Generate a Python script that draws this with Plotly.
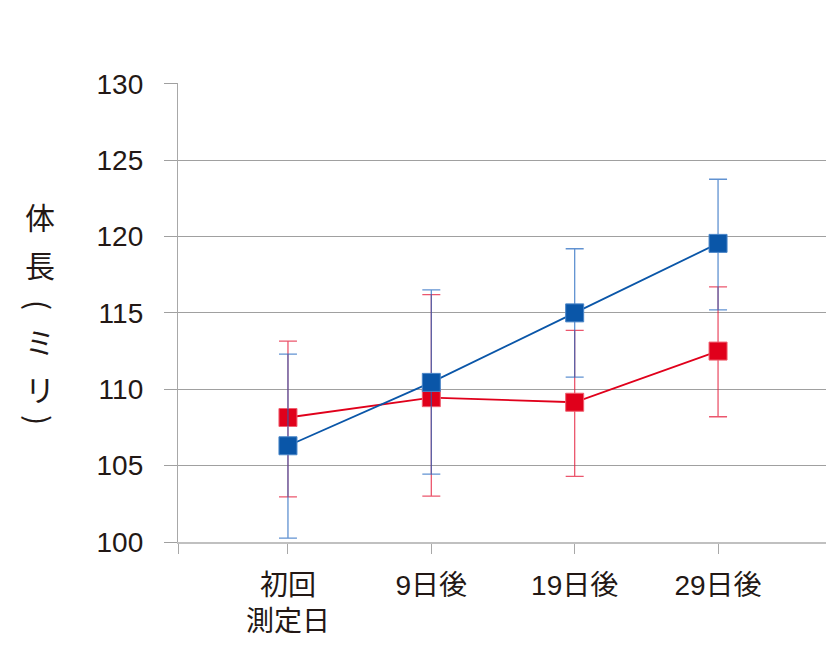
import plotly.graph_objects as go

categories = ["初回<br>測定日", "9日後", "19日後", "29日後"]
blue_mean = [106.3, 110.45, 115.0, 119.55]
blue_err_plus = [6.0, 6.05, 4.2, 4.2]
blue_err_minus = [6.05, 6.0, 4.2, 4.35]
red_mean = [108.15, 109.45, 109.15, 112.5]
red_err_plus = [5.0, 6.75, 4.7, 4.2]
red_err_minus = [5.2, 6.45, 4.85, 4.3]
y_ticks = [100, 105, 110, 115, 120, 125, 130]
y_label_chars = ["体", "長", "(", "ミ", "リ", ")"]
y_label_angles = [0, 0, 90, 0, 0, 90]

xpos = list(range(len(categories)))
FONT = "Liberation Sans, Arial, Noto Sans CJK JP, sans-serif"
BLUE = "#0a56a8"
RED = "#e0001b"

fig = go.Figure()
fig.add_trace(go.Scatter(
    x=xpos, y=red_mean, mode="lines+markers",
    line=dict(color=RED, width=1.8),
    marker=dict(symbol="square", size=18, color=RED, line=dict(color="#f06070", width=1)),
    error_y=dict(type="data", symmetric=False, array=red_err_plus, arrayminus=red_err_minus,
                 color="rgba(228,30,60,0.75)", thickness=1.3, width=9),
    showlegend=False,
))
fig.add_trace(go.Scatter(
    x=xpos, y=blue_mean, mode="lines+markers",
    line=dict(color=BLUE, width=1.8),
    marker=dict(symbol="square", size=18, color=BLUE, line=dict(color="#4a86c8", width=1)),
    error_y=dict(type="data", symmetric=False, array=blue_err_plus, arrayminus=blue_err_minus,
                 color="rgba(30,100,190,0.7)", thickness=1.3, width=9),
    showlegend=False,
))

x_left = -0.767
x_right = 3.753
fig.update_xaxes(
    range=[x_left, x_right],
    tickvals=[x_left] + xpos, ticktext=[""] + categories,
    ticks="outside", ticklen=10, tickcolor="#a8a8a8", tickwidth=1.3,
    showline=True, linecolor="#c0c0c0", linewidth=2,
    showgrid=False, zeroline=False,
    tickfont=dict(family=FONT, size=28, color="#231815"),
    ticklabelstandoff=7,
)
fig.update_yaxes(
    range=[100, 130.05],
    tickvals=y_ticks,
    ticks="outside", ticklen=13, tickcolor="#a0a0a0", tickwidth=1.3,
    showline=True, linecolor="#a8a8a8", linewidth=1.3,
    showgrid=True, gridcolor="#a0a0a0", gridwidth=1.3, zeroline=False,
    tickfont=dict(family=FONT, size=28, color="#231815"),
    ticklabelstandoff=15,
)

# page offset: body margin of 8px in the rendered page
OFF = 8
plot_l, plot_r, plot_t, plot_b = 178 - OFF, 826 - OFF, 83 - OFF, 542 - OFF
y_char_pos = [216, 264, 305, 341, 388, 420]
for ch, ang, yp in zip(y_label_chars, y_label_angles, y_char_pos):
    fig.add_annotation(
        text=ch, xref="paper", yref="paper", textangle=ang,
        x=(40 - OFF - plot_l) / (plot_r - plot_l), y=(plot_b - (yp - OFF)) / (plot_b - plot_t),
        showarrow=False, xanchor="center", yanchor="middle",
        font=dict(family="Noto Sans CJK JP", size=30, color="#231815"),
    )

fig.update_layout(
    width=840, height=650,
    margin=dict(l=plot_l, r=840 - plot_r, t=plot_t, b=650 - plot_b, autoexpand=False),
    plot_bgcolor="white", paper_bgcolor="white",
)
fig.write_html("out.html")
